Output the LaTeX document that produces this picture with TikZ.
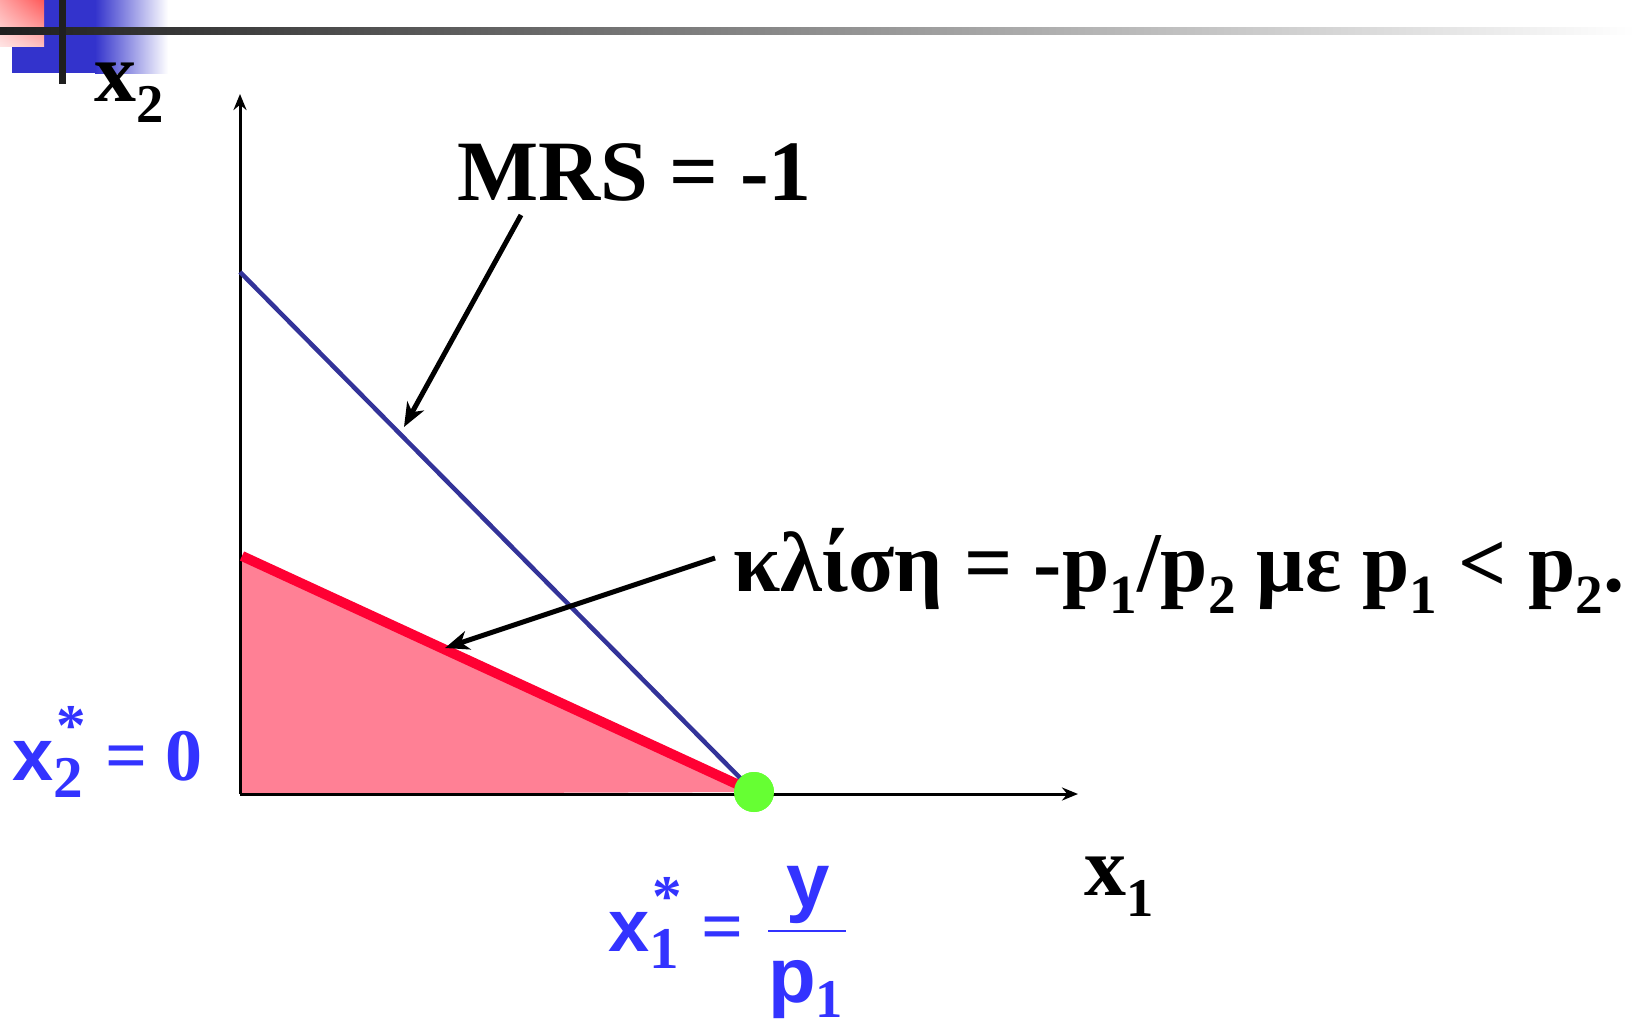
\documentclass[tikz,border=0pt]{standalone}
\usepackage{fontspec}
\setmainfont{Liberation Serif}
\setsansfont{Liberation Sans}
\usetikzlibrary{arrows.meta, positioning, calc, shadings}

\definecolor{budgetred}{RGB}{255,0,51}
\definecolor{feasiblepink}{RGB}{255,128,149}
\definecolor{mrsblue}{RGB}{51,51,153}
\definecolor{optblue}{RGB}{51,51,255}
\definecolor{dotgreen}{RGB}{102,255,51}
\definecolor{barblue}{RGB}{51,51,204}

% lowered subscript and starred subscript
\newcommand{\lowsub}[1]{\raisebox{-.26em}{\scalebox{.65}{#1}}}
\newcommand{\starsub}[1]{\rlap{\hspace{.04em}\raisebox{.47em}{\scalebox{.8}{\normalfont\bfseries *}}}\raisebox{-.24em}{\scalebox{.8}{\normalfont\bfseries #1}}}

\begin{document}
\begin{tikzpicture}[
  x=1pt, y=-1pt,
  >=Stealth,
  axis/.style={line width=3pt, -{Stealth[length=16pt, width=13pt]}},
  callout/.style={line width=5pt, -{Stealth[length=24pt, width=19pt, inset=7pt]}},
  mrsline/.style={draw=mrsblue, line width=4.5pt},
  budget/.style={draw=budgetred, line width=10pt},
  lab/.style={inner sep=0pt, anchor=base west, font=\bfseries\fontsize{84}{90}\selectfont},
  optlab/.style={inner sep=0pt, anchor=base west, text=optblue, font=\bfseries\fontsize{74}{80}\selectfont}]
  \useasboundingbox (0,0) rectangle (1635,1025);

  % slide corner decoration
  \fill[barblue] (12,0) rectangle (95,73);
  \shade[left color=barblue, right color=white] (95,0) rectangle (168,73);
  \shade[upper right=red!65, upper left=red!35, lower left=red!10, lower right=red!25] (0,0) rectangle (44,47);
  \shade[left color=black!88, right color=white] (0,28) rectangle (1635,35);
  \fill[black!88] (59,0) rectangle (66,84);

  \coordinate (O) at (240,794);
  \coordinate (ytop) at (240,94);
  \coordinate (xend) at (1078,794);
  \coordinate (mrstop) at (240,272);
  \coordinate (redtop) at (242,556);
  \coordinate (mrshit) at (404,427);
  \coordinate (slopehit) at (445,648);
  \node[circle, fill=dotgreen, minimum size=40pt, inner sep=0pt] (opt) at (754,792) {};

  \fill[feasiblepink] (240,558) -- (opt.center) -- (O) -- cycle;
  \draw[axis] (O) -- (ytop);
  \draw[axis] (O) -- (xend);
  \draw[mrsline] (mrstop) -- (opt.center);
  \draw[budget] (redtop) -- (opt.center);
  \node[circle, fill=dotgreen, minimum size=40pt, inner sep=0pt] at (opt) {};

  \node[lab] (xtwo) at (94,101) {x\lowsub{2}};
  \node[lab] (xone) at (1084,895) {x\lowsub{1}};
  \node[lab, font=\bfseries\fontsize{86}{90}\selectfont] (mrs) at (457,200) {MRS = -1};
  \node[lab, font=\bfseries\fontsize{85}{90}\selectfont] (slope) at (733,591)
    {κλίση = -p\lowsub{1}/p\lowsub{2} με p\lowsub{1} < p\lowsub{2}.};

  \draw[callout] ($(mrs.base west)+(64,15)$) -- (mrshit);
  \draw[callout] ($(slope.base west)+(-18,-33)$) -- (slopehit);

  \node[optlab] (xtwostar) at (12,780) {{\sffamily x}\starsub{2}\hspace{.3em}= 0};
  \node[optlab] (xonestar) at (608,951) {{\sffamily x}\starsub{1}\hspace{.3em}=};
  \node[optlab, anchor=base, font=\sffamily\bfseries\fontsize{78}{80}\selectfont] (ynum) at (808,907) {y};
  \node[optlab, font=\sffamily\bfseries\fontsize{78}{80}\selectfont] (pden) at (768,1002) {p\raisebox{-.2em}{\scalebox{.7}{\normalfont\bfseries 1}}};
  \draw[optblue, line width=2pt] (768,931) -- (846,931);
\end{tikzpicture}
\end{document}
